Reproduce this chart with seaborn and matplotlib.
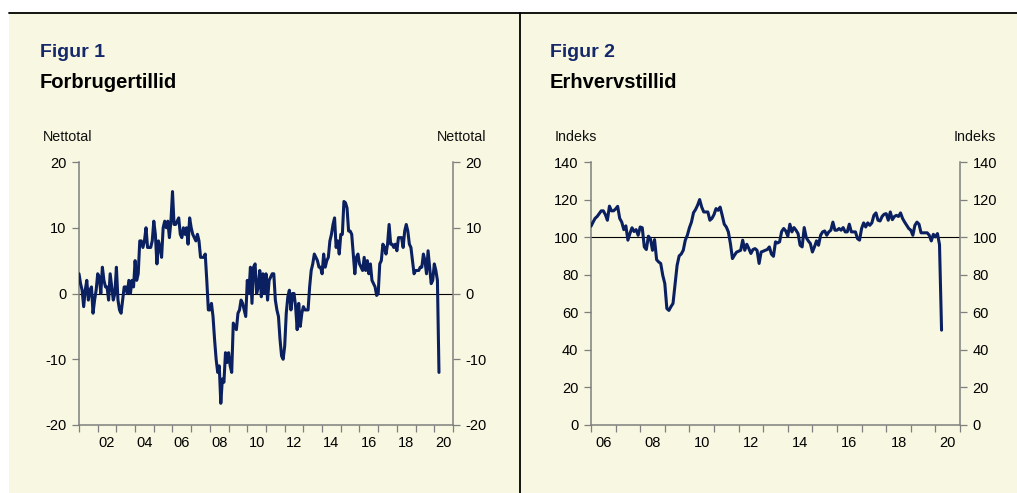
import numpy as np
import pandas as pd
import matplotlib
matplotlib.use("Agg")
import matplotlib.pyplot as plt
from matplotlib.patches import Rectangle
from matplotlib.lines import Line2D
import seaborn as sns

# ---------------- data ----------------
# Figur 1: Forbrugertillid, monthly Jan 2001 - Apr 2020 (nettotal)
ft_2001 = [3, 1.5, 0.5, -2, 0.5, 2, -1, 0.5, 1, -3, -1, 0.5]
ft_2002 = [3, 2.5, 0, 4, 2, 1, 1, -1, 3, 1, -1, 0]
ft_2003 = [4, -1, -2.5, -3, -1, 1, 1, 0, 2, 0, 2, 1]
ft_2004 = [5, 2, 3, 8, 8, 7, 8, 10, 7, 7, 7, 8]
ft_2005 = [11, 9, 4.5, 8, 7, 5.5, 10, 11, 10, 11, 8.5, 11]
ft_2006 = [15.5, 10.5, 10.5, 11, 11.5, 9, 8.5, 10, 9, 10, 7.5, 11.5]
ft_2007 = [10, 9, 8.5, 8, 9, 8, 5.5, 5.5, 5.5, 6, 2, -2.5]
ft_2008 = [-2.5, -1.5, -3.5, -7, -10, -12, -11, -16.7, -13, -13.5, -9, -10.5]
ft_2009 = [-9, -11, -12, -4.5, -5, -5.5, -3, -2.5, -1, -1.5, -2.5, -3.5]
ft_2010 = [2, 0, 4, -1.5, 4, 4.5, 0, 1, 3.5, -0.5, 3, 0]
ft_2011 = [3, -1, 2, 2.5, 3, 3, -1, -2.5, -3.5, -7, -9.5, -10]
ft_2012 = [-8, -3, -0.5, 0.5, -2.5, 0, 0, -2, -5.5, -1.5, -5, -3]
ft_2013 = [-2, -2.5, -2.5, -2.5, 1, 3.5, 4.5, 6, 5.5, 5, 4, 4]
ft_2014 = [3, 6, 4, 5, 5.5, 8, 9, 10.5, 11.5, 7, 8, 6]
ft_2015 = [9, 9, 14, 13.8, 13, 9.5, 9.5, 9, 6, 3, 5.5, 6]
ft_2016 = [4.5, 4, 3.5, 5.5, 3.5, 5, 3, 4.5, 2, 1.5, 1, -0.3]
ft_2017 = [0, 4.5, 5, 7.5, 7, 6, 7.5, 10.5, 7.5, 7.5, 7, 7.5]
ft_2018 = [6.5, 8.5, 8.5, 8.5, 7, 9.5, 10.5, 9.5, 7.5, 7, 5, 3]
ft_2019 = [3.5, 3.5, 3.5, 4, 4, 6, 5, 3, 6.5, 4, 1.5, 2]
ft_2020 = [4.5, 3.5, 2, -12]
forbruger = (ft_2001 + ft_2002 + ft_2003 + ft_2004 + ft_2005 + ft_2006 + ft_2007
             + ft_2008 + ft_2009 + ft_2010 + ft_2011 + ft_2012 + ft_2013 + ft_2014
             + ft_2015 + ft_2016 + ft_2017 + ft_2018 + ft_2019 + ft_2020)
forbruger_start = "2001-01"

# Figur 2: Erhvervstillid, monthly Jan 2006 - Apr 2020 (indeks)
et_2006 = [105.8, 108, 110, 111, 112.5, 114, 114, 112, 109, 116.5, 114, 114]
et_2007 = [115, 116.4, 110, 108, 104, 106, 98.4, 102, 105, 103, 104, 101]
et_2008 = [105.4, 105, 94.8, 93.4, 100.5, 99, 93, 98.7, 88, 86.8, 86, 79.7]
et_2009 = [75.3, 62, 61, 63, 64.7, 75, 85, 90, 91, 93, 98.4, 101]
et_2010 = [105, 108, 113, 114.7, 117, 120, 116, 113.4, 113.4, 113.4, 109, 110]
et_2011 = [112, 115.2, 114.3, 116, 111.6, 106.9, 105.4, 102.8, 96.6, 88.6, 90.4, 92]
et_2012 = [92.5, 93, 98.4, 93, 96.2, 93.9, 91.3, 93.4, 93.9, 93, 86, 92.1]
et_2013 = [92.5, 93, 93.4, 94.8, 91, 89.8, 97.5, 96.9, 97.5, 103, 104.6, 103.3]
et_2014 = [100.5, 106.9, 102.8, 105.1, 103.7, 101.9, 95.7, 94.8, 105.1, 99.8, 98, 96.6]
et_2015 = [92.1, 94.8, 98, 95.7, 101, 102.8, 103.3, 101, 102.8, 103.7, 108, 103.7]
et_2016 = [103.7, 104.6, 103.7, 105.1, 102.8, 102.8, 106.9, 102.8, 102.8, 102.8, 99.2, 98.4]
et_2017 = [104.6, 107.6, 105.4, 107.6, 106.3, 107.6, 111.6, 112.9, 109, 108.6, 111, 112.2]
et_2018 = [112.5, 109, 113.4, 109.3, 111, 111.6, 111, 112.9, 109.9, 108, 106.3, 104.6]
et_2019 = [103.7, 101, 106.3, 108, 106.9, 102.3, 102.3, 102.3, 102.3, 101, 98, 101.5]
et_2020 = [100.1, 101.9, 96, 50.5]
erhverv = (et_2006 + et_2007 + et_2008 + et_2009 + et_2010 + et_2011 + et_2012
           + et_2013 + et_2014 + et_2015 + et_2016 + et_2017 + et_2018 + et_2019 + et_2020)
erhverv_start = "2006-01"

years_left = list(range(2001, 2022))
years_right = list(range(2006, 2022))
labels_left = ["02", "04", "06", "08", "10", "12", "14", "16", "18", "20"]
labels_right = ["06", "08", "10", "12", "14", "16", "18", "20"]

# ---------------- style ----------------
BG = "#F8F7E1"
NAVY = "#0B2060"
SPINE = "#7F7F7F"

sns.set_style("ticks")
plt.rcParams["font.family"] = ["Liberation Sans", "DejaVu Sans"]

W, H = 1017, 493
fig = plt.figure(figsize=(W / 100, H / 100), dpi=100, facecolor="white")


def fx(px):
    return px / W


def fy(py):
    return 1 - py / H


fig.patches.append(Rectangle((fx(9), 0), 1 - fx(9), fy(12), transform=fig.transFigure,
                             facecolor=BG, edgecolor="none", zorder=-10))
fig.lines.append(Line2D([fx(9), 1], [fy(12.5), fy(12.5)], transform=fig.transFigure,
                        color="black", lw=1.3, zorder=-5))
fig.lines.append(Line2D([fx(519.5), fx(519.5)], [0, fy(12.5)], transform=fig.transFigure,
                        color="black", lw=1.3, zorder=-5))


def to_decimal_year(start, n):
    y0, m0 = map(int, start.split("-"))
    return np.array([y0 + (m0 - 1 + i) / 12 for i in range(n)])


def make_axes(x0, x1, series, start, ylim, yticks, refline, years, labels, first_label_year):
    ax = fig.add_axes([fx(x0), fy(425), fx(x1) - fx(x0), fy(162) - fy(425)])
    ax.set_facecolor("none")
    ax.set_zorder(2)
    df = pd.DataFrame({"t": to_decimal_year(start, len(series)), "v": series})
    ax.axhline(refline, color="black", lw=0.8, zorder=1)
    sns.lineplot(data=df, x="t", y="v", ax=ax, color=NAVY, lw=2.2, zorder=3)
    ax.set_xlim(years[0], years[-1])
    ax.set_ylim(*ylim)
    ax.set_xlabel("")
    ax.set_ylabel("")
    ax.set_yticks(yticks)
    ax.set_yticklabels([str(v) for v in yticks])
    ax.set_xticks(years)
    ax.set_xticklabels([])
    label_pos = [first_label_year + 0.5 + 2 * i for i in range(len(labels))]
    ax.set_xticks(label_pos, minor=True)
    ax.set_xticklabels(labels, minor=True)
    ax.tick_params(axis="x", which="minor", length=0, pad=8, labelsize=10.5, colors="black")
    ax.tick_params(axis="x", which="major", length=5, width=0.9, color=SPINE, direction="out")
    ax.tick_params(axis="y", which="both", left=True, right=True, labelleft=True,
                   labelright=True, length=5, width=0.9, color=SPINE, direction="out",
                   labelsize=10.5, labelcolor="black", pad=4)
    for s in ["left", "right", "bottom"]:
        ax.spines[s].set_visible(True)
        ax.spines[s].set_color(SPINE)
        ax.spines[s].set_linewidth(1.1)
    ax.spines["top"].set_visible(False)
    ax.grid(False)
    return ax


make_axes(79, 453, forbruger, forbruger_start, (-20, 20), [-20, -10, 0, 10, 20], 0,
          years_left, labels_left, 2002)
make_axes(591, 960, erhverv, erhverv_start, (0, 140), [0, 20, 40, 60, 80, 100, 120, 140], 100,
          years_right, labels_right, 2006)

# ---------------- texts ----------------
fig.text(fx(40), fy(44), "Figur 1", fontsize=14, fontweight="bold", color="#14286A", va="top")
fig.text(fx(40), fy(73), "Forbrugertillid", fontsize=14.5, fontweight="bold", color="black", va="top")
fig.text(fx(43), fy(130), "Nettotal", fontsize=10.3, color="#111111", va="top")
fig.text(fx(486), fy(130), "Nettotal", fontsize=10.3, color="#111111", va="top", ha="right")

fig.text(fx(550), fy(44), "Figur 2", fontsize=14, fontweight="bold", color="#14286A", va="top")
fig.text(fx(550), fy(73), "Erhvervstillid", fontsize=14.5, fontweight="bold", color="black", va="top")
fig.text(fx(555), fy(130), "Indeks", fontsize=10.3, color="#111111", va="top")
fig.text(fx(996), fy(130), "Indeks", fontsize=10.3, color="#111111", va="top", ha="right")

fig.savefig("out.png", dpi=100, facecolor="white")
